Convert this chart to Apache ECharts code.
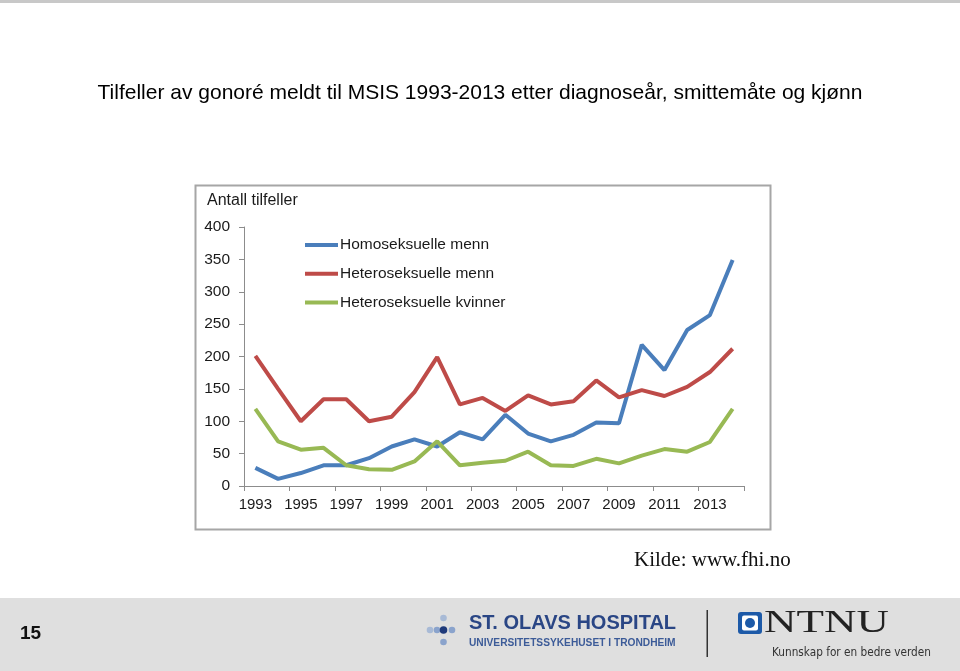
<!DOCTYPE html>
<html>
<head>
<meta charset="utf-8">
<script src="https://cdn.jsdelivr.net/npm/echarts@6/dist/echarts.min.js"></script>
<style>
html,body{margin:0;padding:0;background:#fff;}
#c{width:960px;height:671px;}
</style>
</head>
<body>
<div id="c"></div>
<script>
var years = ['1993','1994','1995','1996','1997','1998','1999','2000','2001','2002','2003','2004','2005','2006','2007','2008','2009','2010','2011','2012','2013','2014'];
var homoMen = [28,11,20,32,32,43,61,72,61,83,72,110,81,69,79,98,97,218,179,241,264,349];
var heteroMen = [201,150,100,134,134,100,107,145,199,126,136,116,140,126,131,163,137,148,139,153,176,212];
var heteroWomen = [119,69,56,59,32,26,25,38,69,32,36,39,53,32,31,42,35,47,57,53,68,119];
var seriesNames = ['Homoseksuelle menn','Heteroseksuelle menn','Heteroseksuelle kvinner'];
var yTicks = {min:0, max:400, interval:50};

var SANS = '"Liberation Sans", Arial, sans-serif';
var SERIF = '"Liberation Serif", "Times New Roman", serif';
var chart = echarts.init(document.getElementById('c'), null, {renderer:'canvas'});
var option = {
  backgroundColor: '#ffffff',
  animation: false,
  title: {
    text: 'Tilfeller av gonoré meldt til MSIS 1993-2013 etter diagnoseår, smittemåte og kjønn',
    left: 'center', top: 78,
    textStyle: {fontFamily: SANS, fontSize: 21, fontWeight: 'normal', color: '#000'}
  },
  legend: {
    orient: 'vertical', left: 300, top: 232,
    icon: 'rect', itemWidth: 33, itemHeight: 4, itemGap: 12.8,
    textStyle: {fontFamily: SANS, fontSize: 15.5, color: '#1a1a1a', lineHeight: 16, padding: [0, 0, 0, -3]},
    data: seriesNames
  },
  grid: {left: 244, top: 227, width: 500, height: 259, containLabel: false},
  xAxis: {
    type: 'category', data: years, boundaryGap: true,
    axisLine: {lineStyle: {color: '#8c8c8c', width: 1}},
    axisTick: {show: true, interval: 1, length: 5, lineStyle: {color: '#8c8c8c'}},
    axisLabel: {interval: 1, margin: 11, fontFamily: SANS, fontSize: 15, color: '#1a1a1a'}
  },
  yAxis: {
    type: 'value', min: yTicks.min, max: yTicks.max, interval: yTicks.interval,
    axisLine: {show: true, lineStyle: {color: '#8c8c8c', width: 1}},
    axisTick: {show: true, length: 5, lineStyle: {color: '#8c8c8c'}},
    splitLine: {show: false},
    axisLabel: {margin: 14, fontFamily: SANS, fontSize: 15.5, color: '#1a1a1a'}
  },
  series: [
    {name: seriesNames[0], type: 'line', data: homoMen, showSymbol: false, symbol: 'none', color: '#4a7ebb', lineStyle: {width: 4, color: '#4a7ebb'}},
    {name: seriesNames[1], type: 'line', data: heteroMen, showSymbol: false, symbol: 'none', color: '#be4b48', lineStyle: {width: 4, color: '#be4b48'}},
    {name: seriesNames[2], type: 'line', data: heteroWomen, showSymbol: false, symbol: 'none', color: '#98b954', lineStyle: {width: 4, color: '#98b954'}}
  ],
  graphic: [
    {type: 'rect', shape: {x: 0, y: 0, width: 960, height: 3}, style: {fill: '#c8c8c8'}, silent: true},
    {type: 'rect', shape: {x: 195.5, y: 185.5, width: 575, height: 344}, style: {fill: 'none', stroke: '#a6a6a6', lineWidth: 2}, z: -1, silent: true},
    {type: 'text', x: 207, y: 201, style: {text: 'Antall tilfeller', font: '16px ' + SANS, fill: '#1a1a1a', textVerticalAlign: 'middle'}},
    {type: 'text', x: 634, y: 560, style: {text: 'Kilde: www.fhi.no', font: '21px ' + SERIF, fill: '#111', textVerticalAlign: 'middle'}},
    {type: 'rect', shape: {x: 0, y: 598, width: 960, height: 73}, style: {fill: '#dfdfdf'}, z: -2, silent: true},
    {type: 'text', x: 20, y: 634, style: {text: '15', font: 'bold 19px ' + SANS, fill: '#111', textVerticalAlign: 'middle'}},
    {type: 'circle', shape: {cx: 430, cy: 630, r: 3.3}, style: {fill: '#a8bad6'}},
    {type: 'circle', shape: {cx: 437, cy: 630, r: 3.3}, style: {fill: '#8aa3cc'}},
    {type: 'circle', shape: {cx: 443.5, cy: 630, r: 3.8}, style: {fill: '#1f3a7a'}},
    {type: 'circle', shape: {cx: 452, cy: 630, r: 3.3}, style: {fill: '#8aa3cc'}},
    {type: 'circle', shape: {cx: 443.5, cy: 618, r: 3.3}, style: {fill: '#a8bad6'}},
    {type: 'circle', shape: {cx: 443.5, cy: 642, r: 3.3}, style: {fill: '#8aa3cc'}},
    {type: 'text', x: 469, y: 623, style: {text: 'ST. OLAVS HOSPITAL', font: 'bold 20px ' + SANS, fill: '#2a4685', textVerticalAlign: 'middle'}},
    {type: 'text', x: 469, y: 643, style: {text: 'UNIVERSITETSSYKEHUSET I TRONDHEIM', font: 'bold 10.2px ' + SANS, fill: '#3c5b98', textVerticalAlign: 'middle'}},
    {type: 'rect', shape: {x: 706.5, y: 610, width: 1.5, height: 47}, style: {fill: '#333'}},
    {type: 'rect', shape: {x: 738, y: 612, width: 24, height: 22, r: 3}, style: {fill: '#1d5aa8'}},
    {type: 'rect', shape: {x: 742, y: 615.5, width: 16, height: 15, r: 2}, style: {fill: '#ffffff'}},
    {type: 'circle', shape: {cx: 750, cy: 623, r: 5}, style: {fill: '#1d5aa8'}},
    {type: 'text', x: 764, y: 624, scaleX: 1.45, style: {text: 'NTNU', font: '31px ' + SERIF, fill: '#222', textVerticalAlign: 'middle'}},
    {type: 'text', x: 772, y: 653, scaleX: 0.9, style: {text: 'Kunnskap for en bedre verden', font: '13px "Liberation Sans Narrow", "DejaVu Sans Condensed", sans-serif', fill: '#333', textVerticalAlign: 'middle'}}
  ]
};
chart.setOption(option);
</script>
</body>
</html>
